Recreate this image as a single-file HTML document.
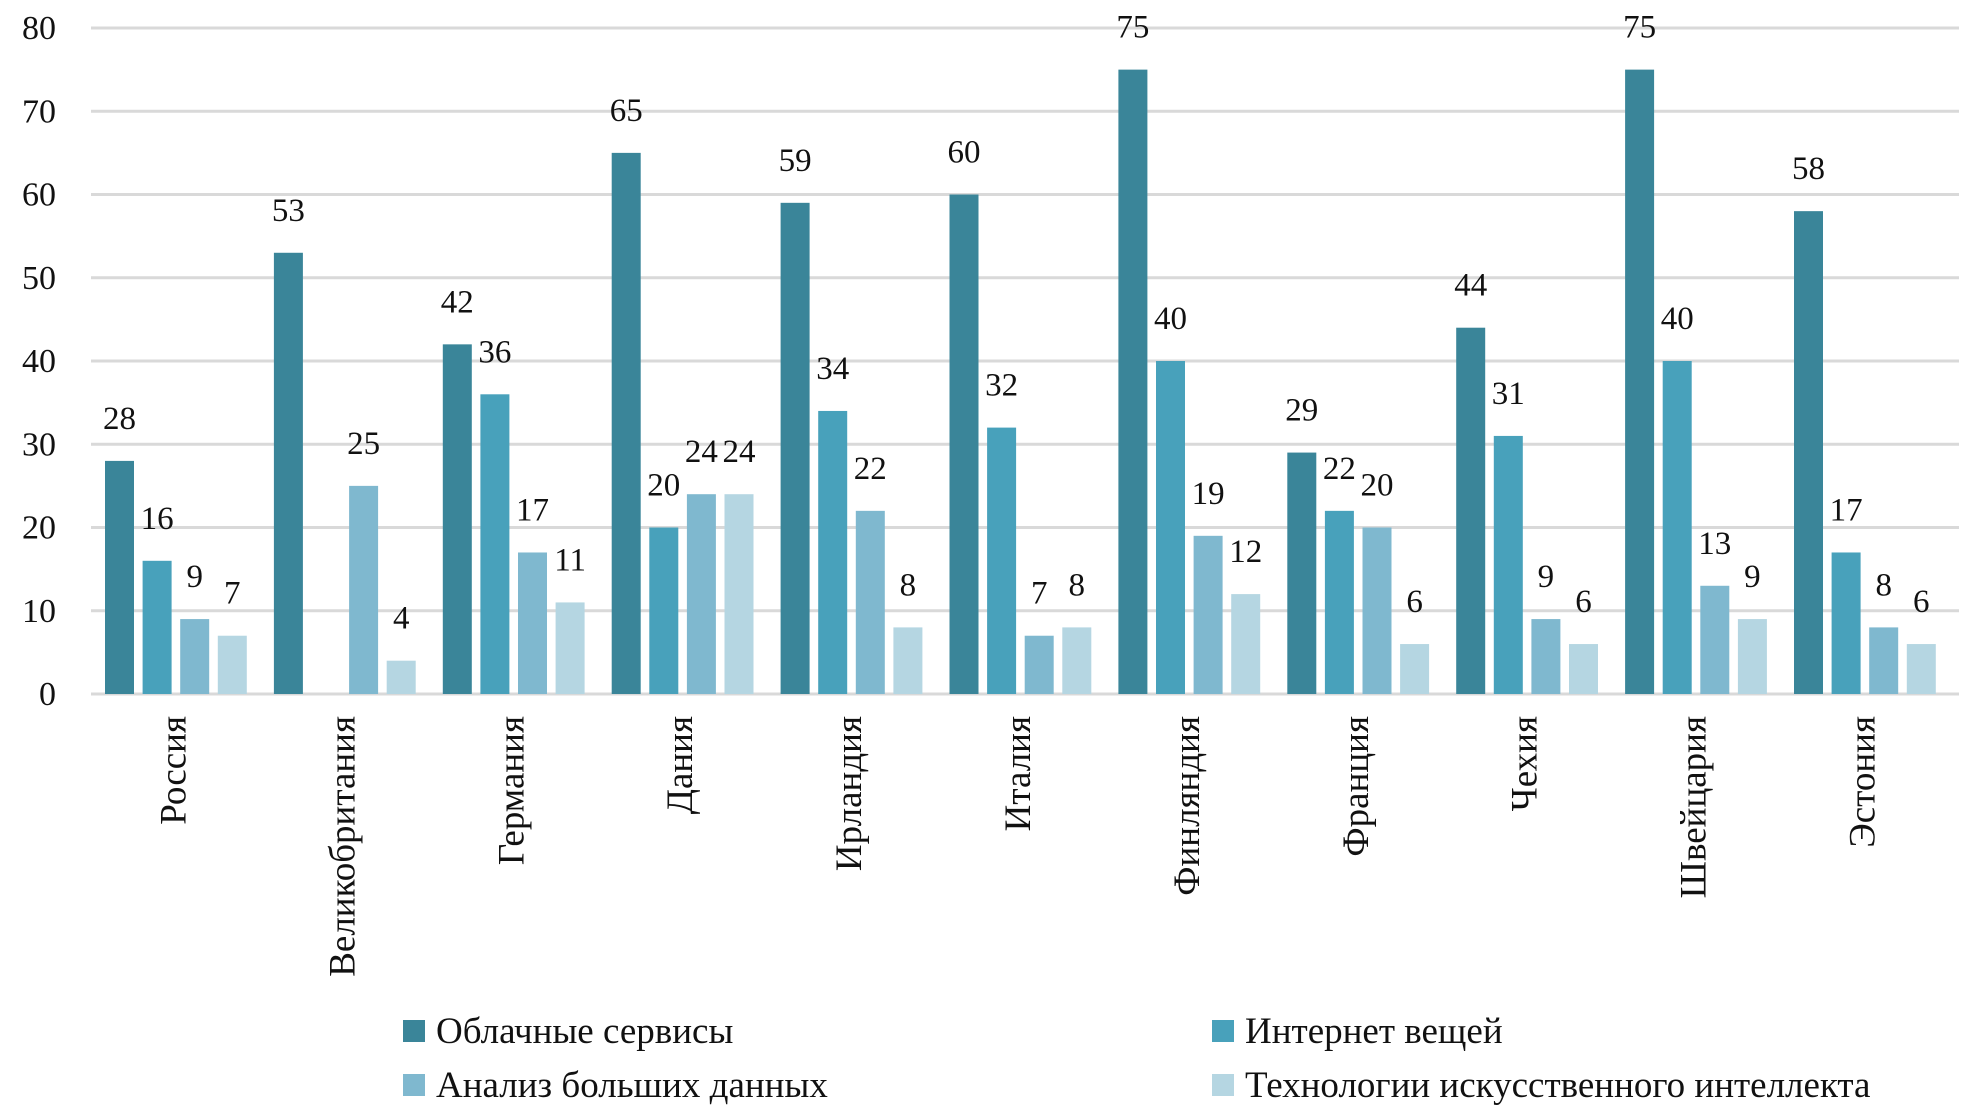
<!DOCTYPE html>
<html><head><meta charset="utf-8"><style>
body{margin:0;background:#fff;}
svg text{font-family:"Liberation Serif",serif;fill:#111;}
</style></head><body>
<svg id="chart" width="1965" height="1114"></svg>
<script>
const categories=["Россия","Великобритания","Германия","Дания","Ирландия","Италия","Финляндия","Франция","Чехия","Швейцария","Эстония"];
const cloud=[28,53,42,65,59,60,75,29,44,75,58];
const iot=[16,null,36,20,34,32,40,22,31,40,17];
const bigData=[9,25,17,24,22,7,19,20,9,13,8];
const ai=[7,4,11,24,8,8,12,6,6,9,6];
const seriesNames=["Облачные сервисы","Интернет вещей","Анализ больших данных","Технологии искусственного интеллекта"];
const yTicks=[0,10,20,30,40,50,60,70,80];
const colors=["#3a8599","#48a1bb","#7fb8cf","#b5d6e2"];
const series=[cloud,iot,bigData,ai];
const NS="http://www.w3.org/2000/svg";
const svg=document.getElementById('chart');
const L=91,R=1959,Y0=694,Y80=28;
const y=v=>Y0-(v/80)*(Y0-Y80);
const cw=168.9;
const bw=29,step=37.6;
const x=(i,s)=>L+i*cw+14+s*step;
function mk(t,a){const e=document.createElementNS(NS,t);for(const k in a)e.setAttribute(k,a[k]);svg.appendChild(e);return e;}
yTicks.forEach(t=>{
  const g=mk('line',{x1:L,x2:R,y1:y(t),y2:y(t),stroke:'#d9d9d9','stroke-width':3});
  
  
  const lb=mk('text',{x:56,y:y(t)+11,'font-size':34,'text-anchor':'end'});
  lb.textContent=t;
  
  
});
categories.forEach((c,i)=>{
  series.forEach((arr,s)=>{
    const v=arr[i]; if(v==null) return;
    const r=mk('rect',{x:x(i,s),y:y(v),width:bw,height:Y0-y(v),fill:colors[s]});
    
    
    const t=mk('text',{x:x(i,s)+bw/2,y:y(v)-32,'font-size':33,'text-anchor':'middle'});
    t.textContent=v;
    
    
  });
  const cx=L+i*cw+cw/2+10;
  const t=mk('text',{x:0,y:0,'font-size':37,'text-anchor':'end',transform:`translate(${cx},716) rotate(-90)`});
  t.textContent=c;
  
  
});
const lpos=[[403,1031],[1212,1031],[403,1085],[1212,1085]];
seriesNames.forEach((n,s)=>{
  const [lx,ly]=lpos[s];
  const r=mk('rect',{x:lx,y:ly-11,width:22,height:22,fill:colors[s]});
  
  
  const t=mk('text',{x:lx+33,y:ly+12,'font-size':37});
  t.textContent=n;
  
  
});
</script>
</body></html>
